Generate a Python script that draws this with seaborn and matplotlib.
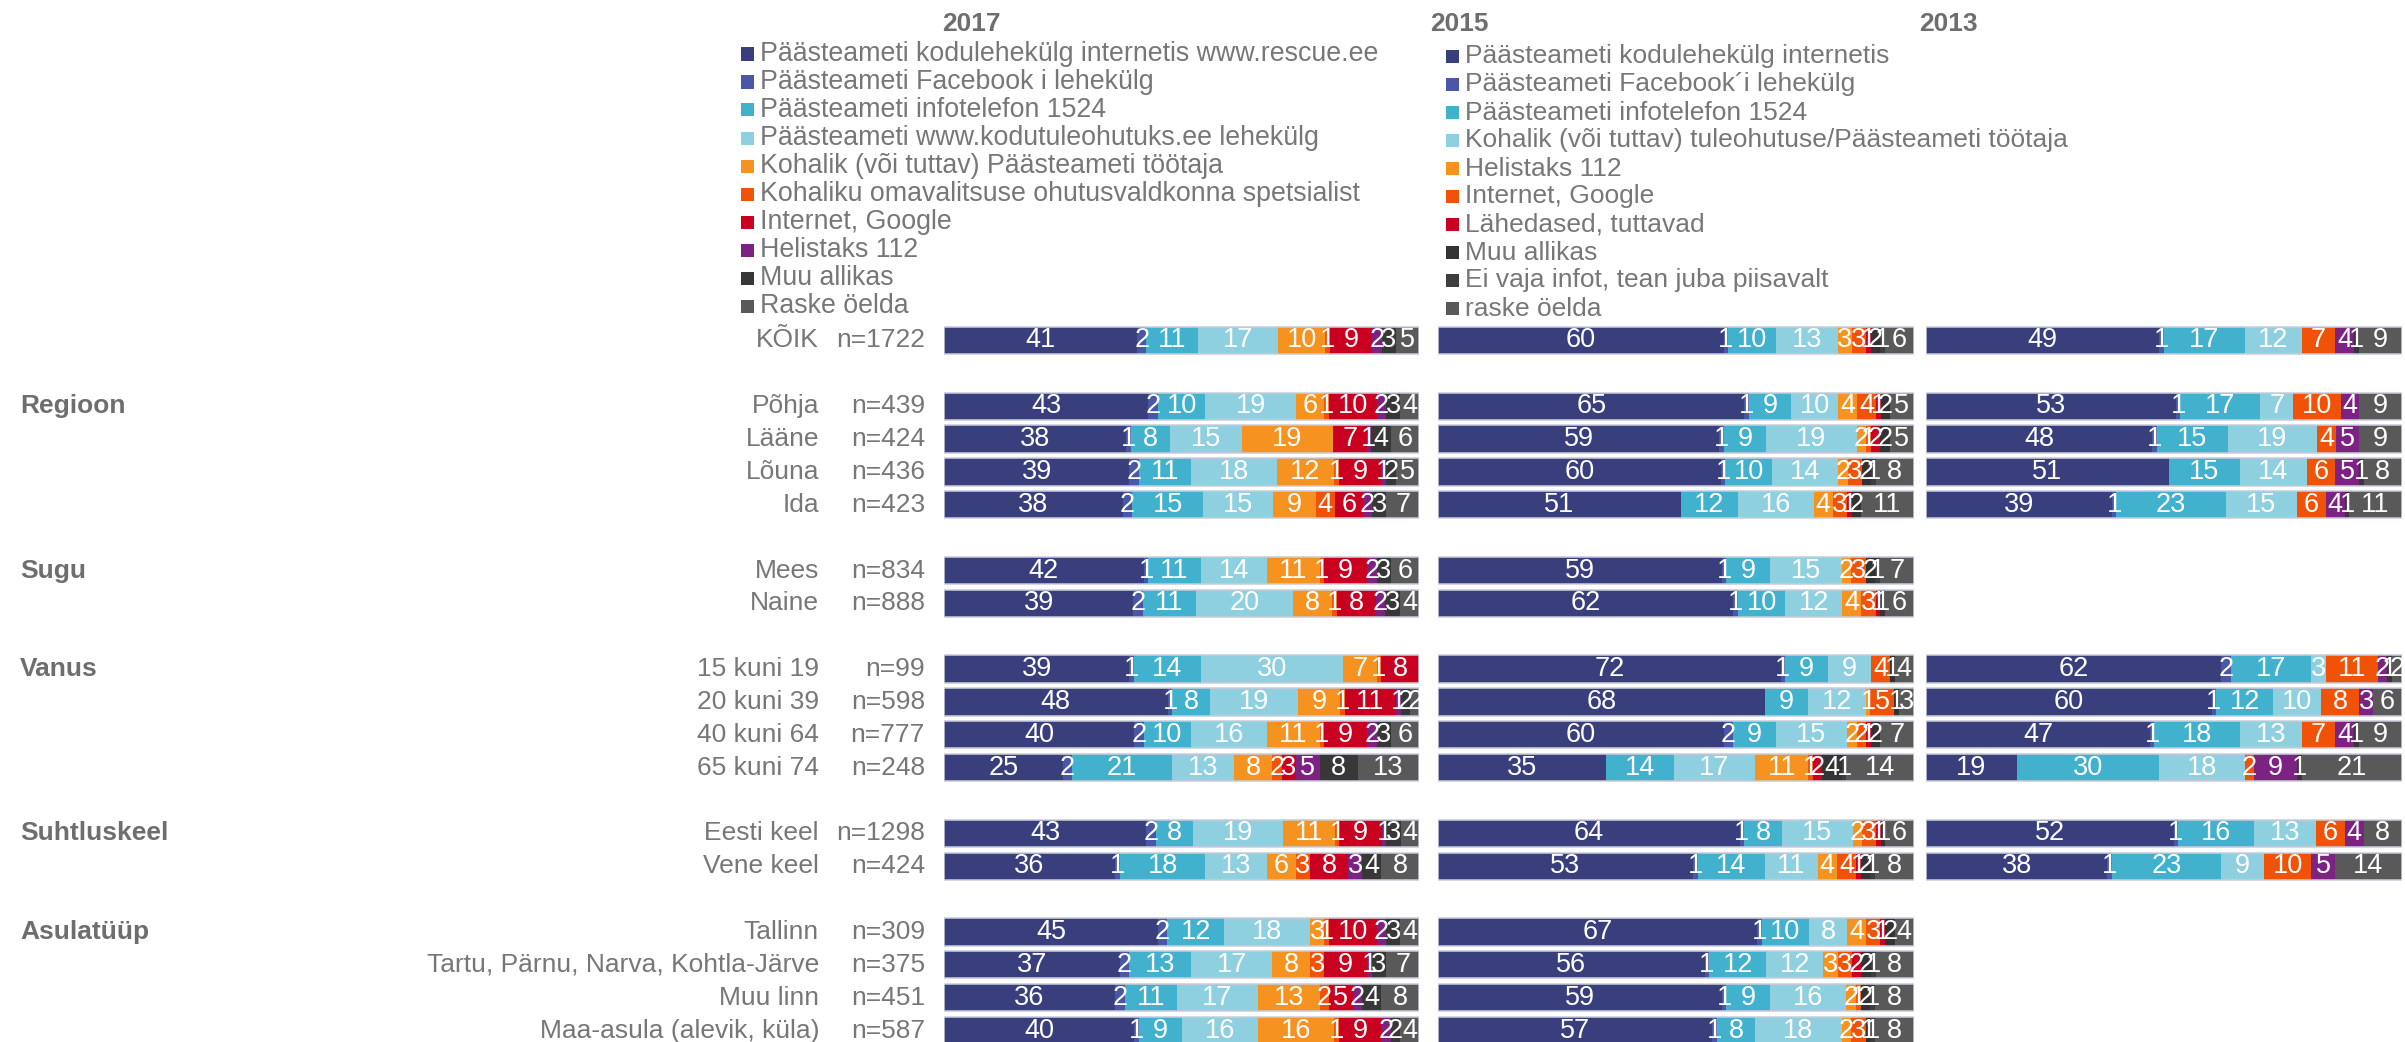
import numpy as np
import pandas as pd
import matplotlib
matplotlib.use("Agg")
import matplotlib.pyplot as plt
import matplotlib.transforms as mtransforms
from matplotlib.patches import Rectangle
import seaborn as sns

sns.set_theme(style="white")
plt.rcParams["font.family"] = ["Liberation Sans", "DejaVu Sans"]

W, H, DPI = 2405, 1042, 100

# ---------------------------------------------------------------- rows
row_labels = ["KÕIK", "Põhja", "Lääne", "Lõuna", "Ida", "Mees", "Naine",
              "15 kuni 19", "20 kuni 39", "40 kuni 64", "65 kuni 74",
              "Eesti keel", "Vene keel", "Tallinn",
              "Tartu, Pärnu, Narva, Kohtla-Järve", "Muu linn",
              "Maa-asula (alevik, küla)"]
row_n = ["n=1722", "n=439", "n=424", "n=436", "n=423", "n=834", "n=888",
         "n=99", "n=598", "n=777", "n=248", "n=1298", "n=424",
         "n=309", "n=375", "n=451", "n=587"]
row_slots = [0, 2, 3, 4, 5, 7, 8, 10, 11, 12, 13, 15, 16, 18, 19, 20, 21]
group_labels = ["Regioon", "Sugu", "Vanus", "Suhtluskeel", "Asulatüüp"]
group_slots = [2, 7, 10, 15, 18]

# ---------------------------------------------------------------- 2017
series_2017 = ["Päästeameti kodulehekülg internetis www.rescue.ee",
               "Päästeameti Facebook i lehekülg",
               "Päästeameti infotelefon 1524",
               "Päästeameti www.kodutuleohutuks.ee lehekülg",
               "Kohalik (või tuttav) Päästeameti töötaja",
               "Kohaliku omavalitsuse ohutusvaldkonna spetsialist",
               "Internet, Google",
               "Helistaks 112",
               "Muu allikas",
               "Raske öelda"]
colors_2017 = ["#383F7C", "#4A56A6", "#41B1CD", "#8ED0E0", "#F69320",
               "#F05207", "#C9001F", "#7B2282", "#373737", "#595959"]
values_2017 = [
    [41, 2, 11, 17, 10, 1, 9, 2, 3, 5],
    [43, 2, 10, 19, 6, 1, 10, 2, 3, 4],
    [38, 1, 8, 15, 19, 0, 7, 1, 4, 6],
    [39, 2, 11, 18, 12, 1, 9, 1, 2, 5],
    [38, 2, 15, 15, 9, 4, 6, 2, 3, 7],
    [42, 1, 11, 14, 11, 1, 9, 2, 3, 6],
    [39, 2, 11, 20, 8, 1, 8, 2, 3, 4],
    [39, 1, 14, 30, 7, 1, 8, 0, 0, 0],
    [48, 1, 8, 19, 9, 1, 11, 1, 2, 2],
    [40, 2, 10, 16, 11, 1, 9, 2, 3, 6],
    [25, 2, 21, 13, 8, 2, 3, 5, 8, 13],
    [43, 2, 8, 19, 11, 1, 9, 1, 3, 4],
    [36, 1, 18, 13, 6, 3, 8, 3, 4, 8],
    [45, 2, 12, 18, 3, 1, 10, 2, 3, 4],
    [37, 2, 13, 17, 8, 3, 9, 1, 3, 7],
    [36, 2, 11, 17, 13, 2, 5, 2, 4, 8],
    [40, 1, 9, 16, 16, 1, 9, 2, 2, 4],
]

# ---------------------------------------------------------------- 2015
series_2015 = ["Päästeameti kodulehekülg internetis",
               "Päästeameti Facebook´i lehekülg",
               "Päästeameti infotelefon 1524",
               "Kohalik (või tuttav) tuleohutuse/Päästeameti töötaja",
               "Helistaks 112",
               "Internet, Google",
               "Lähedased, tuttavad",
               "Muu allikas",
               "Ei vaja infot, tean juba piisavalt",
               "raske öelda"]
colors_2015 = ["#383F7C", "#4A56A6", "#41B1CD", "#8ED0E0", "#F69320",
               "#F05207", "#C9001F", "#333333", "#3E3E3E", "#595959"]
values_2015 = [
    [60, 1, 10, 13, 3, 3, 1, 2, 1, 6],
    [65, 1, 9, 10, 4, 4, 1, 2, 0, 5],
    [59, 1, 9, 19, 2, 1, 2, 2, 0, 5],
    [60, 1, 10, 14, 2, 3, 0, 2, 1, 8],
    [51, 0, 12, 16, 4, 3, 1, 2, 0, 11],
    [59, 1, 9, 15, 2, 3, 0, 2, 1, 7],
    [62, 1, 10, 12, 4, 3, 1, 1, 0, 6],
    [72, 1, 9, 9, 0, 4, 0, 1, 0, 4],
    [68, 0, 9, 12, 1, 5, 0, 1, 0, 3],
    [60, 2, 9, 15, 2, 2, 1, 2, 0, 7],
    [35, 0, 14, 17, 11, 1, 2, 4, 1, 14],
    [64, 1, 8, 15, 2, 3, 1, 1, 0, 6],
    [53, 1, 14, 11, 4, 4, 1, 2, 1, 8],
    [67, 1, 10, 8, 4, 3, 1, 2, 0, 4],
    [56, 1, 12, 12, 3, 3, 2, 2, 1, 8],
    [59, 1, 9, 16, 2, 1, 0, 2, 1, 8],
    [57, 1, 8, 18, 2, 3, 0, 1, 1, 8],
]

# ---------------------------------------------------------------- 2013
series_2013 = ["Päästeameti kodulehekülg internetis",
               "Päästeameti Facebook´i lehekülg",
               "Päästeameti infotelefon 1524",
               "Kohalik (või tuttav) tuleohutuse/Päästeameti töötaja",
               "Internet, Google",
               "Helistaks 112",
               "Muu allikas",
               "raske öelda"]
colors_2013 = ["#383F7C", "#4A56A6", "#41B1CD", "#8ED0E0", "#F05207",
               "#7B2282", "#373737", "#595959"]
values_2013 = [
    [49, 1, 17, 12, 7, 4, 1, 9],
    [53, 1, 17, 7, 10, 4, 0, 9],
    [48, 1, 15, 19, 4, 5, 0, 9],
    [51, 0, 15, 14, 6, 5, 1, 8],
    [39, 1, 23, 15, 6, 4, 1, 11],
    None,
    None,
    [62, 2, 17, 3, 11, 2, 1, 2],
    [60, 1, 12, 10, 8, 3, 0, 6],
    [47, 1, 18, 13, 7, 4, 1, 9],
    [19, 0, 30, 18, 2, 9, 1, 21],
    [52, 1, 16, 13, 6, 4, 0, 8],
    [38, 1, 23, 9, 10, 5, 0, 14],
    None,
    None,
    None,
    None,
]

years = ["2017", "2015", "2013"]

# ---------------------------------------------------------------- layout (pixels)
TEXT = "#777777"
SLOT0, PITCH = 340.5, 32.86
BAR_W = 0.83
panel_x = [944.0, 1438.3, 1926.3]
panel_w = 475.4
year_x = [971, 1459, 1948]
YEAR_Y = 24

fig = plt.figure(figsize=(W / DPI, H / DPI), dpi=DPI)
fig.patch.set_facecolor("white")

y_top = SLOT0 - 0.5 * PITCH
y_bot = SLOT0 + 21.5 * PITCH


def long_table(rows):
    recs = []
    for slot, vals in zip(row_slots, rows):
        if vals is None:
            continue
        tot = float(sum(vals))
        end = 0.0
        for k, v in enumerate(vals):
            share = v / tot * 100.0
            recs.append(dict(slot=slot, k=k, value=v,
                             start=end, end=end + share))
            end += share
    return pd.DataFrame(recs)


axes = []
for px, rows, colors in zip(panel_x,
                            [values_2017, values_2015, values_2013],
                            [colors_2017, colors_2015, colors_2013]):
    ax = fig.add_axes([px / W, (H - y_bot) / H, panel_w / W, (y_bot - y_top) / H])
    df = long_table(rows)
    # stacked bars: draw cumulative ends from the last series backwards
    for k in reversed(range(len(colors))):
        d = df[df["k"] == k]
        sns.barplot(data=d, x="end", y="slot", orient="y", native_scale=True,
                    color=colors[k], saturation=1, width=BAR_W,
                    errorbar=None, linewidth=0, ax=ax)
    totals = df[df["k"] == len(colors) - 1]
    sns.barplot(data=totals, x="end", y="slot", orient="y", native_scale=True,
                color="#C9CCDA", fill=False, width=BAR_W, linewidth=1.1,
                errorbar=None, ax=ax)
    for _, r in df.iterrows():
        if r["value"] > 0:
            ax.text((r["start"] + r["end"]) / 2, r["slot"], f"{int(r['value'])}",
                    ha="center", va="center", color="white", fontsize=19.5)
    ax.set_xlim(0, 100)
    ax.set_ylim(21.5, -0.5)
    ax.axis("off")
    axes.append(ax)

# ---------------------------------------------------------------- row text
trans = mtransforms.blended_transform_factory(fig.transFigure, axes[0].transData)
for lab, n, slot in zip(row_labels, row_n, row_slots):
    fig.text(819 / W, slot, lab, transform=trans, ha="right", va="center",
             color=TEXT, fontsize=19)
    fig.text(925 / W, slot, n, transform=trans, ha="right", va="center",
             color=TEXT, fontsize=19)
for lab, slot in zip(group_labels, group_slots):
    fig.text(20 / W, slot, lab, transform=trans, ha="left", va="center",
             color="#6E6E6E", fontsize=19, fontweight="bold")

# ---------------------------------------------------------------- year headers
for yr, x in zip(years, year_x):
    fig.text(x / W, 1 - YEAR_Y / H, yr, ha="center", va="center",
             color="#6E6E6E", fontsize=19, fontweight="bold")


# ---------------------------------------------------------------- legends
def legend(names, colors, x_mark, x_text, y0, size, step=28.0):
    for i, (nm, c) in enumerate(zip(names, colors)):
        y = y0 + i * step
        fig.add_artist(Rectangle((x_mark / W, 1 - (y + 6.5) / H), 13 / W, 13 / H,
                                 transform=fig.transFigure, facecolor=c,
                                 edgecolor="none"))
        fig.text(x_text / W, 1 - y / H, nm, ha="left", va="center",
                 color=TEXT, fontsize=size)


legend(series_2017, colors_2017, 741, 760, 54, 19.3)
legend(series_2015, colors_2015, 1446, 1465, 56.5, 19)

fig.savefig("out.png", dpi=DPI, facecolor="white")
